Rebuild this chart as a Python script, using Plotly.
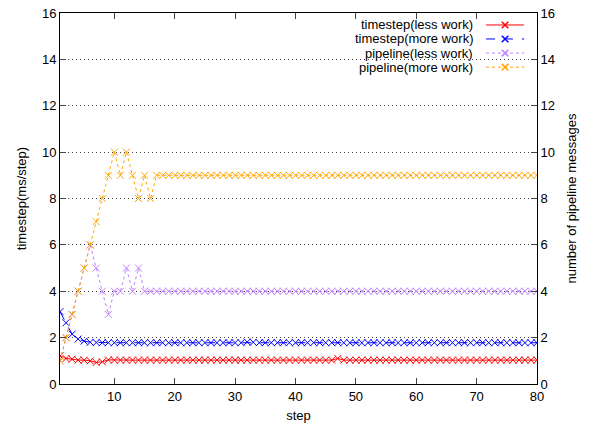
import plotly.graph_objects as go

steps = list(range(1, 81))

ts_less = [1.21, 1.10, 1.07, 1.03, 1.03, 1.00, 0.93, 0.96, 1.04, 1.03,
           1.03, 1.03, 1.03, 1.03, 1.03, 1.03, 1.03, 1.03, 1.03, 1.03,
           1.03, 1.03, 1.03, 1.03, 1.03, 1.03, 1.03, 1.03, 1.03, 1.03,
           1.03, 1.03, 1.03, 1.03, 1.03, 1.03, 1.03, 1.03, 1.03, 1.03,
           1.03, 1.03, 1.03, 1.03, 1.03, 1.03, 1.10, 1.03, 1.03, 1.03,
           1.03, 1.03, 1.03, 1.03, 1.03, 1.03, 1.03, 1.03, 1.03, 1.03,
           1.03, 1.03, 1.03, 1.03, 1.03, 1.03, 1.03, 1.03, 1.03, 1.03,
           1.03, 1.03, 1.03, 1.03, 1.03, 1.03, 1.03, 1.03, 1.03, 1.03]

ts_more = [3.12, 2.64, 2.15, 1.94, 1.85, 1.80, 1.79, 1.78, 1.78, 1.78,
           1.78, 1.78, 1.78, 1.78, 1.78, 1.78, 1.78, 1.78, 1.78, 1.78,
           1.78, 1.78, 1.78, 1.78, 1.78, 1.78, 1.78, 1.78, 1.78, 1.78,
           1.78, 1.81, 1.80, 1.78, 1.78, 1.78, 1.78, 1.78, 1.78, 1.78,
           1.78, 1.78, 1.78, 1.78, 1.78, 1.78, 1.78, 1.78, 1.78, 1.78,
           1.78, 1.78, 1.78, 1.78, 1.78, 1.78, 1.78, 1.78, 1.78, 1.78,
           1.78, 1.78, 1.78, 1.78, 1.78, 1.78, 1.78, 1.78, 1.78, 1.78,
           1.78, 1.78, 1.78, 1.78, 1.78, 1.78, 1.78, 1.78, 1.78, 1.78]

pipe_less = [1, 2, 3, 4, 5, 6, 5, 4, 3, 4,
             4, 5, 4, 5, 4, 4, 4, 4, 4, 4,
             4, 4, 4, 4, 4, 4, 4, 4, 4, 4,
             4, 4, 4, 4, 4, 4, 4, 4, 4, 4,
             4, 4, 4, 4, 4, 4, 4, 4, 4, 4,
             4, 4, 4, 4, 4, 4, 4, 4, 4, 4,
             4, 4, 4, 4, 4, 4, 4, 4, 4, 4,
             4, 4, 4, 4, 4, 4, 4, 4, 4, 4]

pipe_more = [1, 2, 3, 4, 5, 6, 7, 8, 9, 10,
             9, 10, 9, 8, 9, 8, 9, 9, 9, 9,
             9, 9, 9, 9, 9, 9, 9, 9, 9, 9,
             9, 9, 9, 9, 9, 9, 9, 9, 9, 9,
             9, 9, 9, 9, 9, 9, 9, 9, 9, 9,
             9, 9, 9, 9, 9, 9, 9, 9, 9, 9,
             9, 9, 9, 9, 9, 9, 9, 9, 9, 9,
             9, 9, 9, 9, 9, 9, 9, 9, 9, 9]

series_names = ["timestep(less work)", "timestep(more work)",
                "pipeline(less work)", "pipeline(more work)"]
series_colors = ["#ff0000", "#0000ff", "#c080ff", "#ffa500"]
series_dash = ["solid", "dash", "3px,3px", "dot"]

y_ticks = [0, 2, 4, 6, 8, 10, 12, 14, 16]
x_ticks = [10, 20, 30, 40, 50, 60, 70, 80]

FONT = "Liberation Sans, Arial, Helvetica, sans-serif"
FS = 13

data = [(ts_less, "y"), (ts_more, "y"), (pipe_less, "y2"), (pipe_more, "y2")]

fig = go.Figure()
for (vals, ax), name, col, dash in zip(data, series_names, series_colors, series_dash):
    fig.add_trace(go.Scatter(
        x=steps, y=vals, name=name, yaxis=ax, mode="lines+markers",
        line=dict(color=col, width=1, dash=dash),
        marker=dict(symbol="x-thin-open", size=7, color=col,
                    line=dict(color=col, width=1)),
        showlegend=False))

# Custom gnuplot-style key (text right-aligned, sample on the right)
shapes = []
annotations = []
shapes.append(dict(type="rect", xref="paper", yref="paper",
                   x0=0.558, x1=0.998, y0=0.836, y1=0.997,
                   fillcolor="white", line=dict(width=0), layer="between"))
row_y = [0.9677, 0.930, 0.892, 0.854]
dx = 3.3 / 477
dy = 3.3 / 371
for ry, name, col, dash in zip(row_y, series_names, series_colors, series_dash):
    annotations.append(dict(xref="paper", yref="paper", x=0.870, y=ry,
                            xanchor="right", yanchor="middle", showarrow=False,
                            text=name, font=dict(family=FONT, size=FS, color="black")))
    shapes.append(dict(type="line", xref="paper", yref="paper",
                       x0=0.893, x1=0.973, y0=ry, y1=ry,
                       line=dict(color=col, width=1, dash=dash)))
    shapes.append(dict(type="line", xref="paper", yref="paper",
                       x0=0.933 - dx, x1=0.933 + dx, y0=ry - dy, y1=ry + dy,
                       line=dict(color=col, width=1.5)))
    shapes.append(dict(type="line", xref="paper", yref="paper",
                       x0=0.933 - dx, x1=0.933 + dx, y0=ry + dy, y1=ry - dy,
                       line=dict(color=col, width=1.5)))

fig.update_layout(
    width=593, height=425,
    margin=dict(l=60, r=56, t=13, b=41),
    paper_bgcolor="white", plot_bgcolor="white",
    font=dict(family=FONT, size=FS, color="black"),
    showlegend=False,
    shapes=shapes,
    annotations=annotations,
    xaxis=dict(range=[1, 80], tickvals=x_ticks, ticks="inside", ticklen=6,
               showline=True, linecolor="black", linewidth=1, mirror="ticks",
               showgrid=False, zeroline=False, automargin=False,
               tickfont=dict(size=FS),
               title=dict(text="step", standoff=8, font=dict(size=FS))),
    yaxis=dict(range=[0, 16], tickvals=y_ticks, ticks="inside", ticklen=6,
               showline=True, linecolor="black", linewidth=1,
               showgrid=True, gridcolor="#444444", griddash="1px,3px", gridwidth=1,
               zeroline=False, automargin=False,
               tickfont=dict(size=FS),
               title=dict(text="timestep(ms/step)", standoff=12, font=dict(size=FS))),
    yaxis2=dict(range=[0, 16], tickvals=y_ticks, ticks="inside", ticklen=6,
                overlaying="y", side="right",
                showline=True, linecolor="black", linewidth=1,
                showgrid=False, zeroline=False, automargin=False,
                tickfont=dict(size=FS),
                title=dict(text="number of pipeline messages", standoff=12,
                           font=dict(size=FS))),
)

fig.write_html("out.html", config={"displayModeBar": False},
               post_script="document.body.style.margin='0px';document.body.style.overflow='hidden';")
